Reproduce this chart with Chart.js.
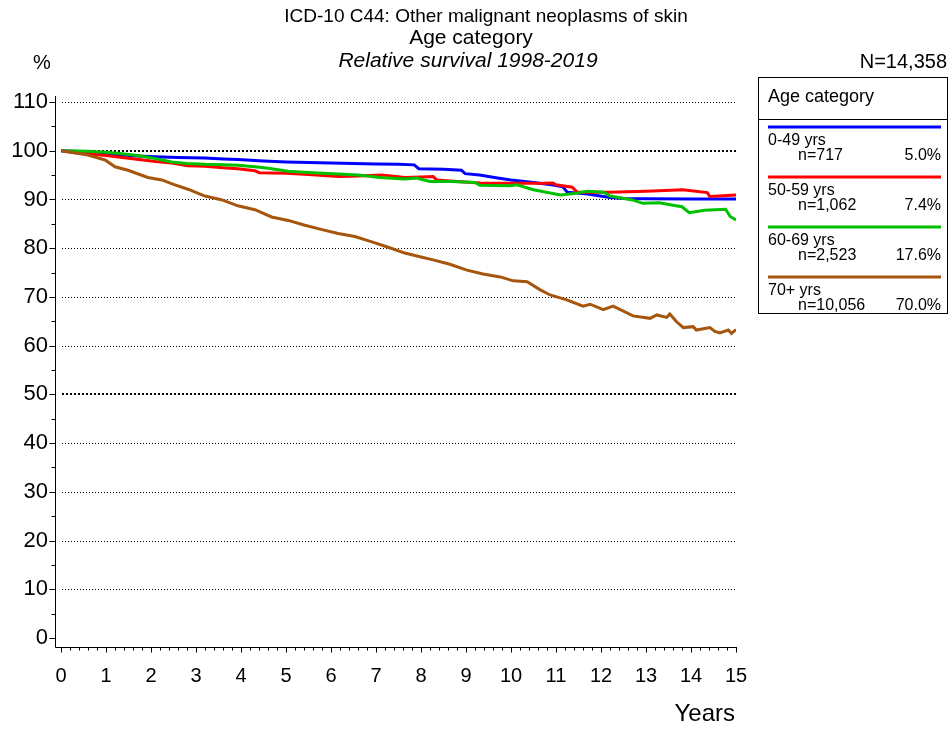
<!DOCTYPE html>
<html>
<head>
<meta charset="utf-8">
<script src="https://cdn.jsdelivr.net/npm/chart.js@4.4.0/dist/chart.umd.min.js"></script>
<style>
  body { margin: 0; background: #fff; }
  #wrap { width: 951px; height: 729px; }
</style>
</head>
<body>
<div id="wrap"><canvas id="survChart" width="951" height="729"></canvas></div>
<script>
// relative survival by age group, [years, %]
const age0_49 = [[0,100],[0.3,99.9],[0.6,99.7],[1.0,99.3],[1.36,99.1],[1.7,98.9],[2.09,98.75],[2.6,98.6],[3.2,98.5],
  [3.6,98.3],[3.93,98.2],[4.5,97.9],[5.0,97.7],[5.5,97.6],[6.0,97.5],[6.5,97.4],[7.0,97.3],[7.5,97.2],[7.85,97.1],
  [7.95,96.3],[8.5,96.2],[8.9,96.0],[8.98,95.3],[9.3,95.0],[9.7,94.4],[10.0,94.0],[10.5,93.5],[10.9,93.0],[11.15,92.6],
  [11.25,91.5],[11.7,91.1],[12.2,90.4],[12.5,90.2],[13.0,90.15],[14.0,90.1],[15.0,90.1]];
const age50_59 = [[0,100],[0.3,99.6],[0.6,99.4],[1.0,99.0],[1.36,98.6],[1.73,98.2],[2.1,97.8],[2.46,97.5],[2.82,96.9],
  [3.2,96.8],[3.6,96.5],[3.93,96.3],[4.31,95.9],[4.4,95.5],[5.0,95.4],[5.5,95.1],[6.16,94.7],[6.6,94.8],[7.13,95.0],
  [7.64,94.5],[8.0,94.6],[8.27,94.7],[8.35,94.0],[8.8,93.7],[9.31,93.4],[9.98,93.3],[10.5,93.3],[10.93,93.4],[11.0,93.0],
  [11.36,92.5],[11.47,91.5],[12.2,91.5],[13.0,91.7],[13.82,92.0],[14.36,91.4],[14.42,90.6],[15.0,90.9]];
const age60_69 = [[0,100],[0.6,99.9],[1.0,99.7],[1.36,99.4],[1.7,99.0],[2.09,98.4],[2.46,97.7],[2.8,97.4],[3.2,97.2],
  [3.6,97.1],[3.93,97.0],[4.31,96.7],[4.6,96.4],[5.05,95.8],[5.6,95.5],[6.16,95.2],[6.6,95.0],[7.09,94.5],[7.64,94.2],
  [7.9,94.4],[8.2,93.7],[8.7,93.7],[9.2,93.5],[9.31,92.9],[9.98,92.8],[10.13,93.0],[10.5,92.0],[11.1,90.9],[11.4,91.2],
  [11.7,91.7],[12.06,91.5],[12.2,90.7],[12.7,89.9],[12.93,89.2],[13.3,89.3],[13.6,88.8],[13.8,88.5],[13.96,87.3],
  [14.3,87.8],[14.77,88.0],[14.87,86.5],[15.0,85.8]];
const age70plus = [[0,100],[0.3,99.6],[0.6,99.1],[0.98,98.1],[1.2,96.7],[1.49,96.0],[1.93,94.5],[2.24,94.0],[2.5,93.1],
  [2.82,92.1],[3.2,90.7],[3.58,89.9],[3.93,88.7],[4.31,87.9],[4.68,86.4],[5.05,85.7],[5.42,84.7],[5.8,83.8],[6.16,83.0],
  [6.53,82.4],[6.91,81.3],[7.27,80.2],[7.64,79.0],[8.0,78.2],[8.27,77.6],[8.64,76.7],[9.02,75.5],[9.38,74.7],[9.76,74.1],
  [10.05,73.3],[10.36,73.1],[10.64,71.5],[10.87,70.4],[11.24,69.4],[11.6,68.1],[11.76,68.5],[12.05,67.4],[12.27,68.1],
  [12.71,66.1],[13.09,65.6],[13.24,66.3],[13.46,65.8],[13.53,66.5],[13.68,64.9],[13.83,63.7],[14.05,63.9],[14.12,63.2],
  [14.42,63.7],[14.53,62.9],[14.64,62.6],[14.83,63.2],[14.9,62.5],[15.0,63.3]];

const groupLabels = ['0-49 yrs', '50-59 yrs', '60-69 yrs', '70+ yrs'];
const groupCounts = ['n=717', 'n=1,062', 'n=2,523', 'n=10,056'];
const groupShares = ['5.0%', '7.4%', '17.6%', '70.0%'];
const groupColors = ['#0000ff', '#ff0000', '#00c000', '#a5560c'];
const groupSeries = [age0_49, age50_59, age60_69, age70plus];

const titleLines = ['ICD-10 C44: Other malignant neoplasms of skin', 'Age category', 'Relative survival 1998-2019'];
const totalN = 'N=14,358';
const FONT = '"Liberation Sans", Arial, sans-serif';

// dotted grid, heavier at 50 and 100
const gridPlugin = {
  id: 'dottedGrid',
  beforeDatasetsDraw(chart) {
    const { ctx, chartArea, scales: { y } } = chart;
    ctx.save();
    for (let v = 10; v <= 110; v += 10) {
      const py = Math.round(y.getPixelForValue(v));
      const heavy = v === 50 || v === 100;
      ctx.lineWidth = heavy ? 2 : 1;
      ctx.setLineDash(heavy ? [2, 2] : [1, 2]);
      ctx.strokeStyle = '#000';
      ctx.beginPath();
      ctx.moveTo(chartArea.left + 1, heavy ? py : py + 0.5);
      ctx.lineTo(chartArea.right, heavy ? py : py + 0.5);
      ctx.stroke();
    }
    ctx.restore();
  }
};

// offset axis lines with major and minor ticks
const axesPlugin = {
  id: 'offsetAxes',
  afterDraw(chart) {
    const { ctx, chartArea, scales: { x, y } } = chart;
    const ax = chartArea.left - 5.5;
    const ay = chartArea.bottom + 9.5;
    ctx.save();
    ctx.strokeStyle = '#000';
    ctx.lineWidth = 1;
    ctx.setLineDash([]);
    ctx.beginPath();
    ctx.moveTo(ax, chartArea.top - 6);
    ctx.lineTo(ax, ay);
    ctx.moveTo(ax, ay);
    ctx.lineTo(chartArea.right + 1, ay);
    for (let v = 0; v <= 110; v += 5) {
      const py = Math.round(y.getPixelForValue(v)) + 0.5;
      ctx.moveTo(ax, py);
      ctx.lineTo(ax - (v % 10 === 0 ? 6 : 4), py);
    }
    for (let i = 0; i <= 75; i++) {
      const px = Math.round(x.getPixelForValue(i / 5)) + 0.5;
      ctx.moveTo(px, ay);
      ctx.lineTo(px, ay + (i % 5 === 0 ? 5 : 3));
    }
    ctx.stroke();
    ctx.restore();
  }
};

// titles, unit labels and the legend box
const textPlugin = {
  id: 'surroundText',
  afterDraw(chart) {
    const { ctx } = chart;
    ctx.save();
    ctx.fillStyle = '#000';
    ctx.textBaseline = 'middle';
    ctx.textAlign = 'center';
    ctx.font = '19px ' + FONT;
    ctx.fillText(titleLines[0], 486, 17);
    ctx.font = '21px ' + FONT;
    ctx.fillText(titleLines[1], 471, 38);
    ctx.font = 'italic 21px ' + FONT;
    ctx.fillText(titleLines[2], 468, 61);
    ctx.font = '20px ' + FONT;
    ctx.fillText('%', 42, 63);
    ctx.textAlign = 'right';
    ctx.fillText(totalN, 947, 62);
    ctx.font = '24px ' + FONT;
    ctx.fillText('Years', 735, 714);

    // legend
    const bx = 758, by = 77, bw = 189, bh = 236;
    ctx.strokeStyle = '#000';
    ctx.lineWidth = 1;
    ctx.strokeRect(bx + 0.5, by + 0.5, bw, bh);
    ctx.beginPath();
    ctx.moveTo(bx, 119.5);
    ctx.lineTo(bx + bw, 119.5);
    ctx.stroke();
    ctx.textAlign = 'left';
    ctx.font = '18px ' + FONT;
    ctx.fillText('Age category', 768, 97);
    ctx.font = '16px ' + FONT;
    groupLabels.forEach((lab, i) => {
      const ly = 127 + i * 50;
      ctx.strokeStyle = groupColors[i];
      ctx.lineWidth = 3;
      ctx.beginPath();
      ctx.moveTo(768, ly);
      ctx.lineTo(941, ly);
      ctx.stroke();
      ctx.textAlign = 'left';
      ctx.fillText(lab, 768, ly + 14);
      ctx.fillText(groupCounts[i], 798, ly + 29);
      ctx.textAlign = 'right';
      ctx.fillText(groupShares[i], 941, ly + 29);
    });
    ctx.restore();
  }
};

const datasets = groupSeries.map((series, i) => ({
  label: groupLabels[i],
  data: series.map(p => ({ x: p[0], y: p[1] })),
  borderColor: groupColors[i],
  borderWidth: 3,
  pointRadius: 0,
  tension: 0,
  fill: false,
  order: 4 - i
}));

new Chart(document.getElementById('survChart'), {
  type: 'line',
  data: { datasets },
  options: {
    responsive: false,
    animation: false,
    events: [],
    layout: { padding: { left: 0, right: 215, top: 102, bottom: 0 } },
    plugins: { legend: { display: false }, tooltip: { enabled: false }, title: { display: false } },
    scales: {
      x: {
        type: 'linear',
        min: 0, max: 15,
        afterFit: s => { s.height = 91; },
        grid: { display: false, drawTicks: false },
        border: { display: false },
        ticks: { stepSize: 1, padding: 26, color: '#000', font: { size: 20, family: FONT }, maxRotation: 0 }
      },
      y: {
        min: 0, max: 110,
        afterFit: s => { s.width = 61; },
        grid: { display: false, drawTicks: false },
        border: { display: false },
        ticks: { stepSize: 10, padding: 13, color: '#000', font: { size: 22, family: FONT } }
      }
    }
  },
  plugins: [gridPlugin, axesPlugin, textPlugin]
});
</script>
</body>
</html>
